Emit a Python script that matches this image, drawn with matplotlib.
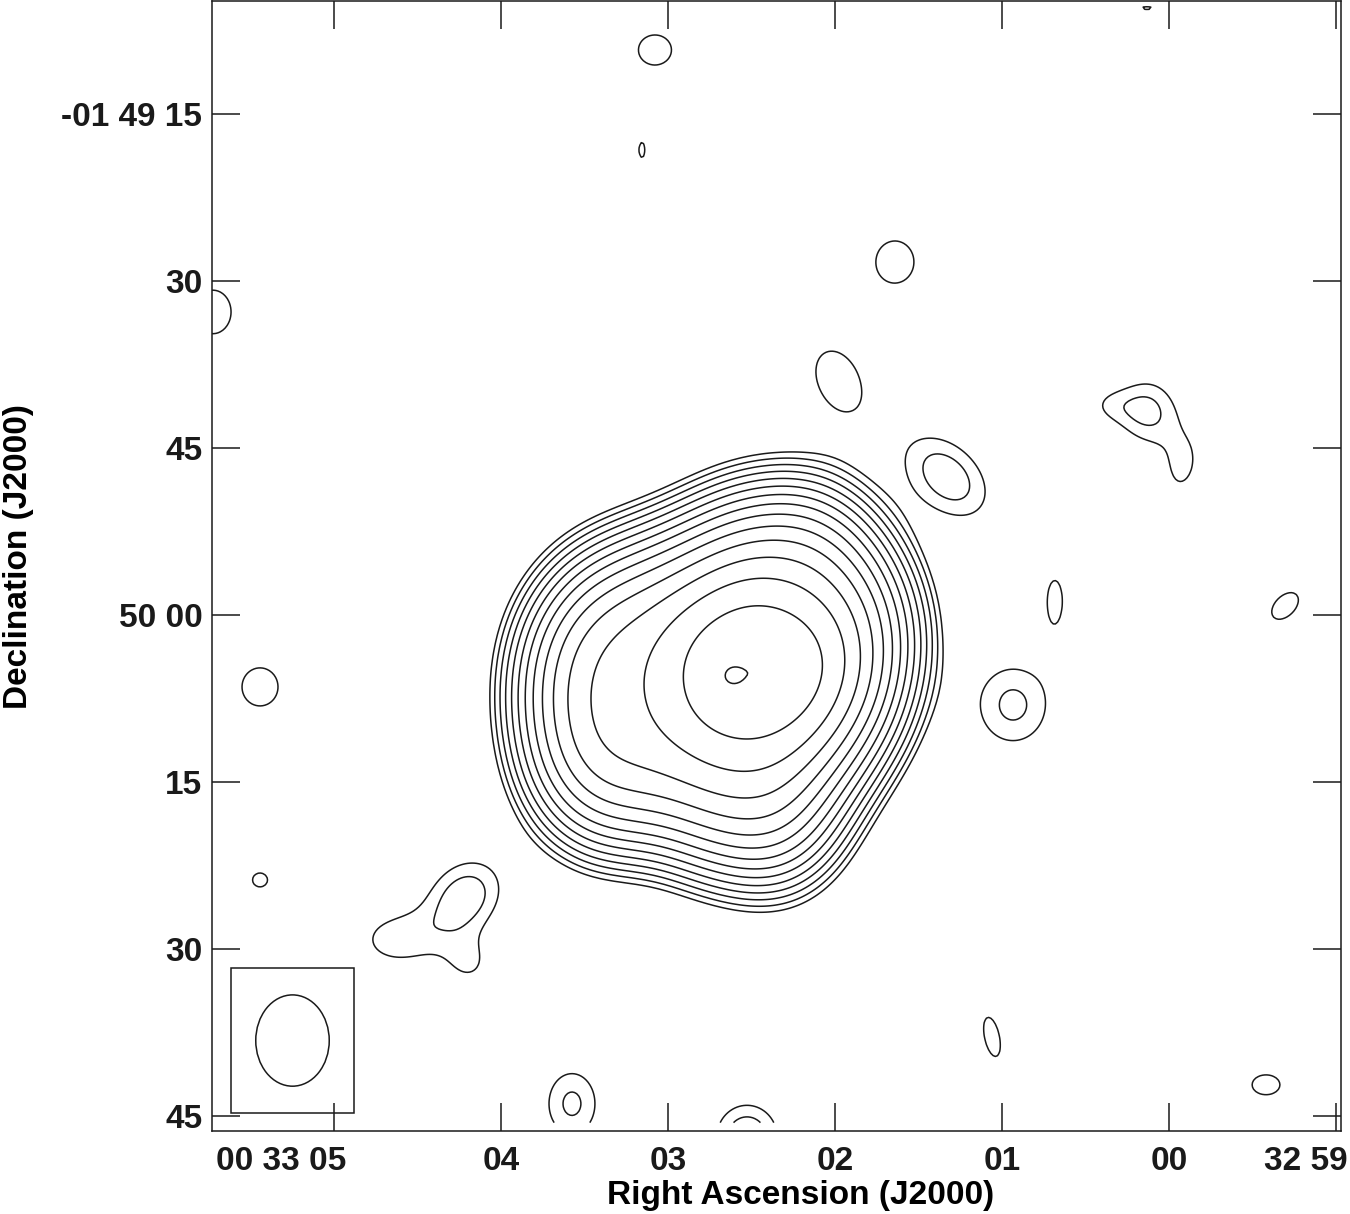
import numpy as np
import matplotlib
matplotlib.use("Agg")
import matplotlib.pyplot as plt
from matplotlib.path import Path
from matplotlib.patches import Ellipse, Rectangle
from matplotlib.transforms import ScaledTranslation

plt.rcParams["font.family"] = ["Liberation Sans", "DejaVu Sans"]

# contour levels, in units of the lowest contour
LEVELS = [1.0, 1.41, 2.0, 2.83, 4.0, 5.66, 8.0, 11.3, 16.0, 22.6, 32.0, 45.3, 64.0, 90.5, 128.0]

# restoring beam FWHM (arcsec), PA 0, as drawn in the corner
BEAM_MAJ = 8.2
BEAM_MIN = 6.6
# effective smoothing of the extended emission (arcsec FWHM)
SMOOTH_X = 7.2
SMOOTH_Y = 8.6

# x = RA seconds of 00h33m (negative -> 32m), y = Dec arcsec offset from -01 49 00
# extended emission: outline of the plateau and of the brighter core
plateau_ra = [3.659, 3.635, 3.563, 3.467, 3.287, 3.060, 2.778, 2.569, 2.329, 2.138,
              1.982, 1.838, 1.743, 1.802, 1.838, 2.066, 2.240, 2.300, 2.521, 2.737,
              2.988, 3.470, 3.610, 3.650]
plateau_dec = [-65.84, -63.14, -61.17, -59.37, -58.02, -57.13, -55.33, -53.26, -52.99, -52.37,
               -54.88, -57.75, -61.35, -65.39, -67.81, -72.57, -77.52, -80.40, -78.86, -78.59,
               -76.17, -76.60, -73.40, -68.35]
PLATEAU_FLUX = 53.5

core_ra = [2.946, 2.868, 2.731, 2.551, 2.419, 2.329, 2.246, 2.090, 1.982, 2.000,
           2.102, 2.311, 2.569, 2.790, 2.886]
core_dec = [-64.94, -62.25, -60.27, -59.01, -58.47, -59.91, -60.81, -61.08, -63.23, -66.11,
            -68.71, -70.33, -71.05, -70.15, -68.35]
CORE_FLUX = 80.0

# brightest spot of the main source and its peak (units of lowest contour)
PEAK_RA, PEAK_DEC = 2.629, -65.48
PEAK_BUMP, PEAK_SIZE = 8.0, 0.7
MAIN_PEAK = 132.0

# compact components: position, peak, gaussian sigmas (arcsec) and angle (deg)
comp_ra = [3.078, 3.156, 0.132, 1.641, 1.982, 1.329, 0.126, -0.084, 0.380,
           0.683, -0.695, 0.934, 5.443, 5.725, 5.443, 4.216, 4.635, 4.186, 3.575,
           2.527, 1.060, -0.581]
comp_dec = [-9.25, -18.23, -5.48, -28.29, -38.89, -47.60, -41.70, -46.80, -41.13,
            -58.65, -59.19, -68.08, -66.46, -32.78, -83.80, -85.30, -89.18, -91.50, -103.90,
            -106.96, -97.90, -102.20]
comp_peak = [1.25, 1.05, 1.02, 1.25, 1.25, 1.70, 1.50, 1.05, 0.70,
             1.15, 1.20, 1.52, 1.25, 1.30, 1.05, 1.70, 1.20, 0.90, 1.50,
             1.80, 1.10, 1.20]
comp_sa = [2.22, 0.86, 2.25, 2.55, 4.04, 3.90, 2.30, 1.70, 1.80,
           1.19, 2.38, 3.14, 2.42, 2.25, 2.16, 3.20, 3.10, 1.90, 2.29,
           2.51, 4.10, 2.07]
comp_sb = [2.02, 2.16, 0.67, 2.82, 2.69, 2.60, 2.60, 3.00, 1.40,
           3.20, 1.48, 3.50, 2.56, 2.70, 2.00, 2.60, 2.20, 1.90, 3.00,
           2.69, 1.53, 1.48]
comp_pa = [0, 0, 0, 0, 66, 45, 0, 12, 0,
           0, 135, 0, 0, 0, 0, 135, 0, 0, 0,
           0, 78, 0]

MAP_EDGE_DEC = -105.6

# sky grid in arcsec (u = 15 * RA seconds)
step = 0.2
u = np.arange(-25, 95, step)
v = np.arange(-125, 10, step)
U, V = np.meshgrid(u, v)
pts = np.column_stack([U.ravel(), V.ravel()])


def region(ra, dec):
    path = Path(np.column_stack([np.array(ra) * 15.0, dec]))
    return path.contains_points(pts).reshape(U.shape).astype(float)


def gauss(ra, dec, pk, sa, sb, pa=0.0):
    x = U - ra * 15.0
    y = V - dec
    t = np.radians(pa)
    a = x * np.cos(t) + y * np.sin(t)
    b = -x * np.sin(t) + y * np.cos(t)
    return pk * np.exp(-0.5 * ((a / sa) ** 2 + (b / sb) ** 2))


sky = PLATEAU_FLUX * region(plateau_ra, plateau_dec) + CORE_FLUX * region(core_ra, core_dec)

sx = SMOOTH_X / 2.3548
sy = SMOOTH_Y / 2.3548
KU, KV = np.meshgrid(np.fft.fftfreq(len(u), step), np.fft.fftfreq(len(v), step))
transfer = np.exp(-2 * np.pi ** 2 * ((sx * KU) ** 2 + (sy * KV) ** 2))
main = np.real(np.fft.ifft2(np.fft.fft2(sky) * transfer))
main += gauss(PEAK_RA, PEAK_DEC, PEAK_BUMP, PEAK_SIZE, PEAK_SIZE)
main *= MAIN_PEAK / main.max()

img = main.copy()
for ra, dec, pk, sa, sb, pa in zip(comp_ra, comp_dec, comp_peak, comp_sa, comp_sb, comp_pa):
    img += gauss(ra, dec, pk, sa, sb, pa)

keep = v >= MAP_EDGE_DEC
fig = plt.figure(figsize=(13.5, 12.14), dpi=100)
ax = fig.add_axes([0.15704, 0.06837, 0.83630, 0.93081])
ax.contour(U[keep] / 15.0, V[keep], img[keep], levels=LEVELS,
           colors="#1a1a1a", linewidths=1.1)

ax.set_xlim(5.7305, -1.030)
ax.set_ylim(-106.35, -4.85)

ax.set_xticks([5, 4, 3, 2, 1, 0, -1])
ax.set_xticklabels(["00 33 05", "04", "03", "02", "01", "00", "32 59"])
ax.set_yticks([-15, -30, -45, -60, -75, -90, -105])
ax.set_yticklabels(["-01 49 15", "30", "45", "50 00", "15", "30", "45"])
ax.tick_params(direction="in", length=20, width=1.1, top=True, right=True,
               labelsize=24, colors="#1a1a1a")
ax.tick_params(axis="x", pad=11)
ax.tick_params(axis="y", pad=7)
for lab in ax.get_xticklabels() + ax.get_yticklabels():
    lab.set_fontweight("bold")
xlabs = ax.get_xticklabels()
for lab in (xlabs[0], xlabs[-1]):
    lab.set_horizontalalignment("right")
    lab.set_transform(lab.get_transform() + ScaledTranslation(0.12, 0, fig.dpi_scale_trans))
for sp in ax.spines.values():
    sp.set_linewidth(1.1)
    sp.set_color("#1a1a1a")

ax.set_xlabel("Right Ascension (J2000)", fontsize=24, fontweight="bold")
ax.xaxis.set_label_coords(0.5217, -0.043)
ax.set_ylabel("Declination (J2000)", fontsize=24, fontweight="bold")
ax.yaxis.set_label_coords(-0.1575, 0.508)

# beam in the lower-left corner
box = (0.0168, 0.0159, 0.1090, 0.1283)
ax.add_patch(Rectangle(box[:2], box[2], box[3], transform=ax.transAxes,
                       fill=False, lw=1.1, ec="#1a1a1a"))
cx, cy = ax.transData.inverted().transform(
    ax.transAxes.transform((box[0] + box[2] / 2, box[1] + box[3] / 2)))
ax.add_patch(Ellipse((cx, cy), BEAM_MIN / 15.0, BEAM_MAJ, fill=False, lw=1.1, ec="#1a1a1a"))

fig.savefig("out.png", dpi=100, facecolor="white")
